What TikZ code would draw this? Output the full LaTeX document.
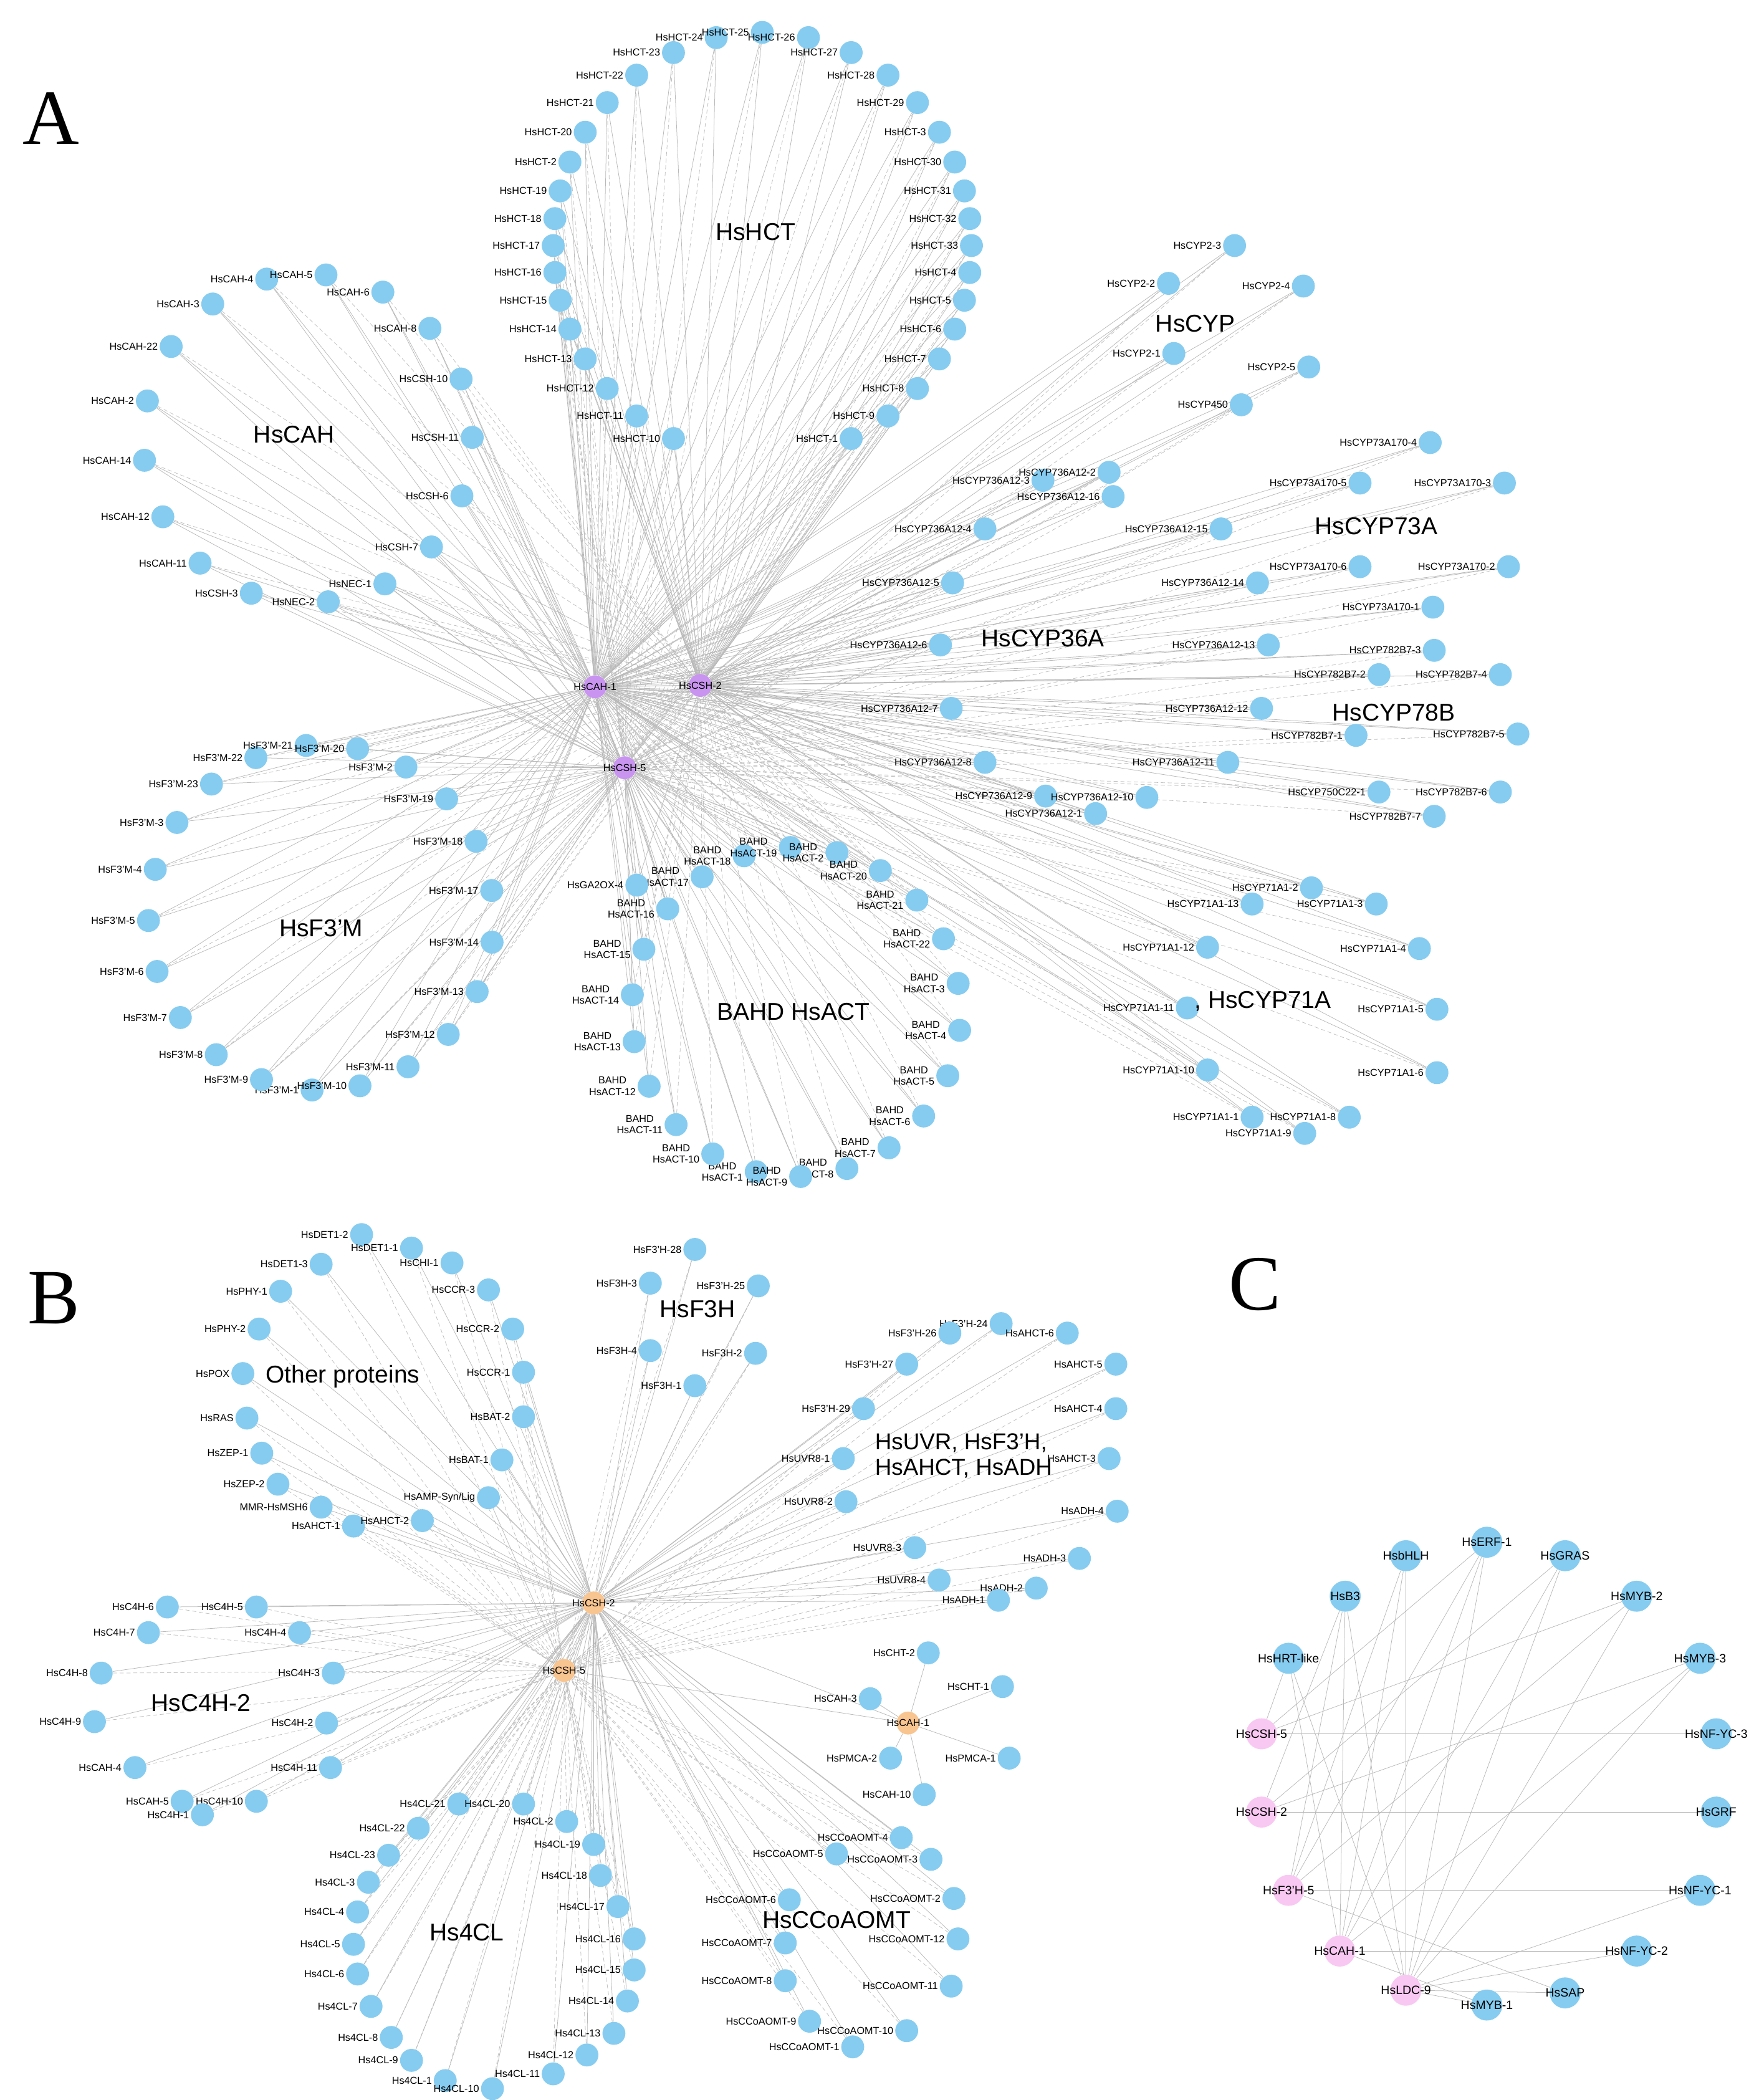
\documentclass[tikz,border=0pt]{standalone}
\usepackage{fontspec}
\setmainfont{Liberation Sans}
\newfontfamily\serifA{Liberation Serif}
\pgfdeclarelayer{back}\pgfdeclarelayer{bg}\pgfsetlayers{back,bg,main}
\definecolor{leafc}{HTML}{86CCF0}
\definecolor{hubp}{HTML}{C894F0}
\definecolor{hubo}{HTML}{F8C490}
\definecolor{hubk}{HTML}{F8C8F2}
\tikzset{
 leaf/.style={circle,fill=leafc,minimum size=17pt,inner sep=0pt},
 bigleaf/.style={circle,fill=leafc,minimum size=23pt,inner sep=0pt},
 pinkleaf/.style={circle,fill=hubk,minimum size=23pt,inner sep=0pt},
 lab/.style={font=\fontsize{7.5}{8.5}\selectfont,inner sep=1pt},
 labc/.style={font=\fontsize{9}{10}\selectfont,inner sep=0pt},
 hubA/.style={circle,fill=hubp,minimum size=17pt,inner sep=0pt},
 hubB/.style={circle,fill=hubo,minimum size=17pt,inner sep=0pt},
 edge/.style={draw=gray!55,line width=0.35pt},
 edged/.style={draw=gray!50,line width=0.35pt,dash pattern=on 3pt off 2pt},
 grp/.style={font=\fontsize{18}{20}\selectfont,align=left},
 panel/.style={font=\serifA\fontsize{58}{60}\selectfont}
}
\begin{document}
\begin{tikzpicture}[x=1pt,y=-1pt]
\begin{pgfonlayer}{back}\fill[white] (0,0) rectangle (1300,1556.4);\end{pgfonlayer}
\useasboundingbox (0,0) rectangle (1300,1556.4);
\node[panel] (pa) at (38,88) {A};
\node[panel] (pb) at (40,962) {B};
\node[panel] (pc) at (930,952) {C};
% ---------- A hubs
\node[hubA,label={[lab]center:HsCAH-1}] (a1) at (441,509) {};
\node[hubA,label={[lab]center:HsCSH-2}] (a2) at (519,508) {};
\node[hubA,label={[lab]center:HsCSH-5}] (a3) at (463,569) {};
% HCT ring
\foreach \t [count=\i from 0] in {10,11,12,13,14,15,16,17,18,19,2,20,21,22,23,24,25,26,27,28,29,3,30,31,32,33,4,5,6,7,8,9,1}{
 \pgfmathsetmacro\b{250-10*\i}
 \pgfmathsetmacro\a{\b+8*sin(2*(\b-90))}
 \node[leaf,label={[lab]left:HsHCT-\t}] (hct\i) at ({565+155*cos(\a)},{182-158*sin(\a)}) {};
 \begin{pgfonlayer}{bg}\draw[edge] (hct\i) -- (a2); \draw[edged] (hct\i) -- (a3); \draw[edge] (hct\i) -- (a1);\end{pgfonlayer}
}
% CAH ring
\foreach \t [count=\i from 0] in {CSH-3,CAH-11,CAH-12,CAH-14,CAH-2,CAH-22,CAH-3,CAH-4,CAH-5,CAH-6,CAH-8,CSH-10,CSH-11,CSH-6,CSH-7,NEC-1,NEC-2}{
 \pgfmathsetmacro\a{250-20.8*\i}
 \node[leaf,label={[lab]left:Hs\t}] (cah\i) at ({228+122*cos(\a)},{325-122*sin(\a)}) {};
 \begin{pgfonlayer}{bg}\draw[edge] (cah\i) -- (a1); \draw[edged] (cah\i) -- (a2); \draw[edge] (cah\i) -- (a3);\end{pgfonlayer}
}
% F3'M ring
\foreach \t [count=\i from 0] in {1,9,8,7,6,5,4,3,23,22,21,20,2,19,18,17,14,13,12,11,10}{
 \pgfmathsetmacro\a{267-17.2*\i}
 \node[leaf,label={[lab]left:HsF3'M-\t}] (fm\i) at ({238+128*cos(\a)},{680-128*sin(\a)}) {};
 \begin{pgfonlayer}{bg}\draw[edge] (fm\i) -- (a3); \draw[edged] (fm\i) -- (a2); \draw[edge] (fm\i) -- (a1);\end{pgfonlayer}
}
% ACT ring
\foreach \t [count=\i from 0] in {1,10,11,12,13,14,15,16,17,18,19,2,20,21,22,3,4,5,6,7,8,9}{
 \pgfmathsetmacro\a{256-16.4*\i}
 \node[leaf,label={[lab,align=center]left:BAHD\\HsACT-\t}] (act\i) at ({590+122*cos(\a)},{750-122*sin(\a)}) {};
 \begin{pgfonlayer}{bg}\draw[edge] (act\i) -- (a3); \draw[edged] (act\i) -- (a2); \draw[edge] (act\i) -- (a1);\end{pgfonlayer}
}
% CYP groups explicit
\foreach \x/\y/\t [count=\i] in {
 915/182/HsCYP2-3,866/210/HsCYP2-2,966/212/HsCYP2-4,870/262/HsCYP2-1,970/272/HsCYP2-5,920/300/HsCYP450,
 773/356/HsCYP736A12-3,822/350/HsCYP736A12-2,825/368/HsCYP736A12-16,730/392/HsCYP736A12-4,905/392/HsCYP736A12-15,
 706/432/HsCYP736A12-5,932/432/HsCYP736A12-14,697/478/HsCYP736A12-6,940/478/HsCYP736A12-13,705/525/HsCYP736A12-7,
 935/525/HsCYP736A12-12,730/565/HsCYP736A12-8,910/565/HsCYP736A12-11,775/590/HsCYP736A12-9,850/591/HsCYP736A12-10,812/603/HsCYP736A12-1,
 1060/328/HsCYP73A170-4,1008/358/HsCYP73A170-5,1115/358/HsCYP73A170-3,1008/420/HsCYP73A170-6,1118/420/HsCYP73A170-2,1062/450/HsCYP73A170-1,
 1063/482/HsCYP782B7-3,1022/500/HsCYP782B7-2,1112/500/HsCYP782B7-4,1005/545/HsCYP782B7-1,1125/544/HsCYP782B7-5,
 1022/587/HsCYP750C22-1,1112/587/HsCYP782B7-6,1063/605/HsCYP782B7-7,
 972/658/HsCYP71A1-2,928/670/HsCYP71A1-13,1020/670/HsCYP71A1-3,895/702/HsCYP71A1-12,1052/703/HsCYP71A1-4,
 880/747/HsCYP71A1-11,1065/748/HsCYP71A1-5,895/793/HsCYP71A1-10,1065/795/HsCYP71A1-6,928/828/HsCYP71A1-1,
 1000/828/HsCYP71A1-8,967/840/HsCYP71A1-9,472/656/HsGA2OX-4}{
 \node[leaf,label={[lab]left:\t}] (cyp\i) at (\x,\y) {};
 \begin{pgfonlayer}{bg}\draw[edge] (cyp\i) -- (a2); \draw[edged] (cyp\i) -- (a3); \draw[edge] (cyp\i) -- (a1);\end{pgfonlayer}
}
\node[grp] (gA1) at (560,172) {HsHCT};
\node[grp] (gA2) at (218,322) {HsCAH};
\node[grp] (gA3) at (886,240) {HsCYP};
\node[grp] (gA4) at (1020,390) {HsCYP73A};
\node[grp] (gA5) at (773,473) {HsCYP36A};
\node[grp] (gA6) at (1033,528) {HsCYP78B};
\node[grp] (gA7) at (238,688) {HsF3'M};
\node[grp] (gA8) at (588,750) {BAHD HsACT};
\node[grp] (gA9) at (936,742) {, HsCYP71A};
% ---------- B hubs
\node[hubB,label={[lab]center:HsCSH-2}] (b1) at (440,1188) {};
\node[hubB,label={[lab]center:HsCSH-5}] (b2) at (418,1238) {};
\node[hubB,label={[lab]center:HsCAH-1}] (b3) at (673,1277) {};
\node[leaf,label={[lab]left:HsAMP-Syn/Lig}] (amp) at (362,1110) {};
\begin{pgfonlayer}{bg}\draw[edge] (amp) -- (b1); \draw[edge] (amp) -- (b2);\end{pgfonlayer}
\foreach \x/\y/\t [count=\i] in {
 268/915/HsDET1-2,305/925/HsDET1-1,238/937/HsDET1-3,335/936/HsCHI-1,208/957/HsPHY-1,362/956/HsCCR-3,
 192/985/HsPHY-2,380/985/HsCCR-2,180/1018/HsPOX,388/1017/HsCCR-1,183/1051/HsRAS,388/1050/HsBAT-2,
 194/1077/HsZEP-1,372/1082/HsBAT-1,206/1100/HsZEP-2,238/1117/MMR-HsMSH6,262/1131/HsAHCT-1,313/1127/HsAHCT-2,
 515/926/HsF3'H-28,482/951/HsF3H-3,562/953/HsF3'H-25,482/1001/HsF3H-4,560/1003/HsF3H-2,515/1027/HsF3H-1,
 742/981/HsF3'H-24,791/988/HsAHCT-6,704/988/HsF3'H-26,672/1011/HsF3'H-27,827/1011/HsAHCT-5,640/1044/HsF3'H-29,
 827/1044/HsAHCT-4,625/1081/HsUVR8-1,822/1081/HsAHCT-3,627/1113/HsUVR8-2,828/1120/HsADH-4,678/1147/HsUVR8-3,
 800/1155/HsADH-3,696/1171/HsUVR8-4,768/1177/HsADH-2,740/1186/HsADH-1,
 124/1191/HsC4H-6,190/1191/HsC4H-5,110/1210/HsC4H-7,222/1210/HsC4H-4,75/1240/HsC4H-8,247/1240/HsC4H-3,
 70/1276/HsC4H-9,242/1277/HsC4H-2,100/1310/HsCAH-4,245/1310/HsC4H-11,135/1335/HsCAH-5,190/1335/HsC4H-10,150/1345/HsC4H-1,
 340/1337/Hs4CL-21,388/1337/Hs4CL-20,310/1355/Hs4CL-22,420/1350/Hs4CL-2,288/1375/Hs4CL-23,440/1367/Hs4CL-19,
 273/1395/Hs4CL-3,445/1390/Hs4CL-18,265/1417/Hs4CL-4,458/1413/Hs4CL-17,262/1441/Hs4CL-5,470/1437/Hs4CL-16,
 265/1463/Hs4CL-6,470/1460/Hs4CL-15,275/1487/Hs4CL-7,465/1483/Hs4CL-14,290/1510/Hs4CL-8,455/1507/Hs4CL-13,
 305/1527/Hs4CL-9,435/1523/Hs4CL-12,330/1542/Hs4CL-1,410/1537/Hs4CL-11,365/1548/Hs4CL-10,
 668/1362/HsCCoAOMT-4,620/1374/HsCCoAOMT-5,690/1378/HsCCoAOMT-3,707/1407/HsCCoAOMT-2,585/1408/HsCCoAOMT-6,
 710/1437/HsCCoAOMT-12,582/1440/HsCCoAOMT-7,705/1472/HsCCoAOMT-11,582/1468/HsCCoAOMT-8,672/1505/HsCCoAOMT-10,
 600/1498/HsCCoAOMT-9,632/1517/HsCCoAOMT-1}{
 \node[leaf,label={[lab]left:\t}] (bl\i) at (\x,\y) {};
 \begin{pgfonlayer}{bg}\draw[edge] (bl\i) -- (b1); \draw[edged] (bl\i) -- (b2);\end{pgfonlayer}
}
\foreach \x/\y/\t [count=\i] in {688/1225/HsCHT-2,743/1250/HsCHT-1,645/1259/HsCAH-3,748/1303/HsPMCA-1,660/1303/HsPMCA-2,685/1330/HsCAH-10}{
 \node[leaf,label={[lab]left:\t}] (cl\i) at (\x,\y) {};
 \begin{pgfonlayer}{bg}\draw[edge] (cl\i) -- (b3);\end{pgfonlayer}
}
\begin{pgfonlayer}{bg}\draw[edge] (b3) -- (b2); \draw[edge] (b3) -- (b1);\end{pgfonlayer}
\node[grp] (gB1) at (254,1020) {Other proteins};
\node[grp] (gB2) at (517,970) {HsF3H};
\node[grp,anchor=west,font=\fontsize{17}{19}\selectfont] (gB3) at (645,1079) {HsUVR, HsF3'H,\\HsAHCT, HsADH};
\node[grp] (gB4) at (149,1262) {HsC4H-2};
\node[grp] (gB5) at (346,1432) {Hs4CL};
\node[grp] (gB6) at (620,1423) {HsCCoAOMT};
% ---------- C
\node[bigleaf,label={[labc]center:HsERF-1}] (c1) at (1102,1143) {};
\node[bigleaf,label={[labc]center:HsbHLH}] (c2) at (1042,1153) {};
\node[bigleaf,label={[labc]center:HsGRAS}] (c3) at (1160,1153) {};
\node[bigleaf,label={[labc]center:HsB3}] (c4) at (997,1183) {};
\node[bigleaf,label={[labc]center:HsMYB-2}] (c5) at (1213,1183) {};
\node[bigleaf,label={[labc]center:HsHRT-like}] (c6) at (955,1229) {};
\node[bigleaf,label={[labc]center:HsMYB-3}] (c7) at (1260,1229) {};
\node[pinkleaf,label={[labc]center:HsCSH-5}] (p1) at (935,1285) {};
\node[bigleaf,label={[labc]center:HsNF-YC-3}] (c8) at (1272,1285) {};
\node[pinkleaf,label={[labc]center:HsCSH-2}] (p2) at (935,1343) {};
\node[bigleaf,label={[labc]center:HsGRF}] (c9) at (1272,1343) {};
\node[pinkleaf,label={[labc]center:HsF3'H-5}] (p3) at (955,1401) {};
\node[bigleaf,label={[labc]center:HsNF-YC-1}] (c10) at (1260,1401) {};
\node[pinkleaf,label={[labc]center:HsCAH-1}] (p4) at (993,1446) {};
\node[bigleaf,label={[labc]center:HsNF-YC-2}] (c11) at (1213,1446) {};
\node[pinkleaf,label={[labc]center:HsLDC-9}] (p5) at (1042,1475) {};
\node[bigleaf,label={[labc]center:HsMYB-1}] (c12) at (1102,1486) {};
\node[bigleaf,label={[labc]center:HsSAP}] (c13) at (1160,1477) {};
\begin{pgfonlayer}{bg}
\foreach \a/\b in {p1/c8,p2/c9,p3/c10,p4/c11,p5/c2,p5/c1,p5/c3,p5/c5,p5/c7,p5/c6,p5/c4,p5/c10,p5/c11,p5/c13,p5/c12,
 p4/c2,p4/c4,p4/c6,p4/c3,p4/c1,p4/c7,p3/c4,p3/c1,p3/c5,p3/c2,p2/c3,p2/c4,p2/c7,p1/c1,p1/c6,p1/c5,p4/c12,p3/c13}{
 \draw[edge] (\a) -- (\b);}
\end{pgfonlayer}
\end{tikzpicture}
\end{document}
